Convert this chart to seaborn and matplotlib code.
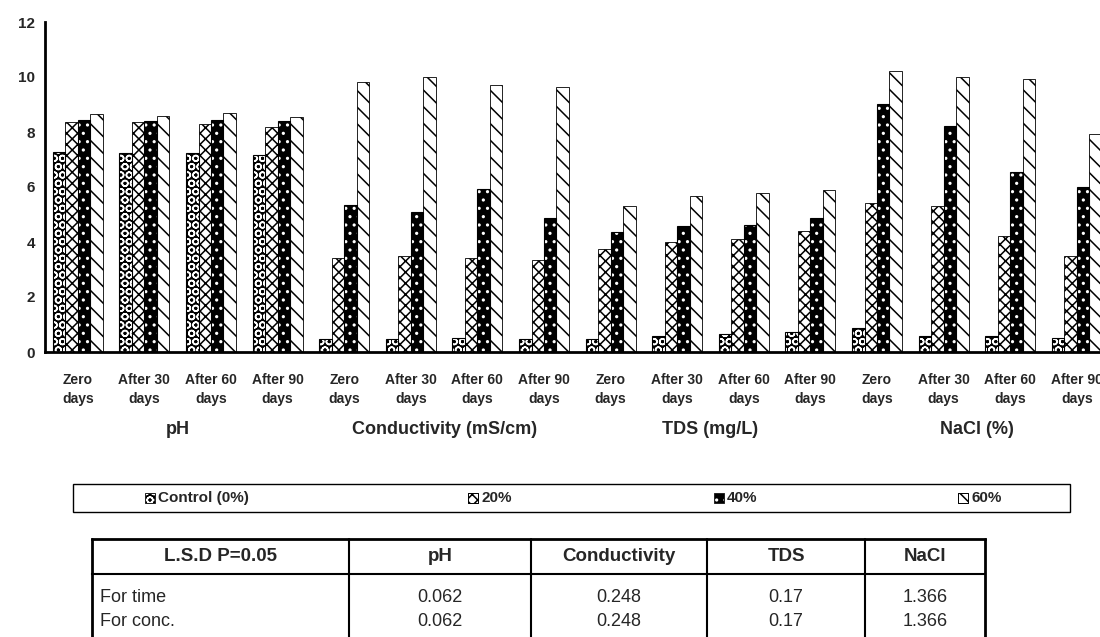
import matplotlib
matplotlib.use("Agg")
import matplotlib.pyplot as plt
from matplotlib.patches import Rectangle
from matplotlib.lines import Line2D
import matplotlib.transforms as mtransforms
import seaborn as sns
import pandas as pd

# ---------------- data ----------------
groups = ["pH", "Conductivity (mS/cm)", "TDS (mg/L)", "NaCl (%)"]
times = ["Zero\ndays", "After 30\ndays", "After 60\ndays", "After 90\ndays"]
concs = ["Control (0%)", "20%", "40%", "60%"]

control = [7.26, 7.22, 7.22, 7.16, 0.46, 0.46, 0.51, 0.46,
           0.49, 0.59, 0.65, 0.72, 0.87, 0.59, 0.59, 0.50]
c20 = [8.37, 8.36, 8.28, 8.19, 3.41, 3.50, 3.41, 3.33,
       3.75, 3.99, 4.10, 4.40, 5.42, 5.30, 4.21, 3.48]
c40 = [8.44, 8.40, 8.44, 8.40, 5.35, 5.09, 5.93, 4.87,
       4.35, 4.58, 4.62, 4.86, 9.02, 8.22, 6.55, 6.00]
c60 = [8.64, 8.58, 8.68, 8.55, 9.83, 9.99, 9.70, 9.62,
       5.32, 5.67, 5.79, 5.90, 10.22, 10.01, 9.91, 7.92]

y_ticks = [0, 2, 4, 6, 8, 10, 12]

lsd_header = ["L.S.D P=0.05", "pH", "Conductivity", "TDS", "NaCl"]
lsd_time = ["For time", "0.062", "0.248", "0.17", "1.366"]
lsd_conc = ["For conc.", "0.062", "0.248", "0.17", "1.366"]

# ---------------- build frame ----------------
slots = [f"{g}|{t}" for g in groups for t in times]
rows = []
for name, vals in zip(concs, [control, c20, c40, c60]):
    for s, v in zip(slots, vals):
        rows.append({"slot": s, "conc": name, "value": v})
df = pd.DataFrame(rows)

# ---------------- style ----------------
sns.set_style("white")
plt.rcParams["font.family"] = ["Liberation Sans", "DejaVu Sans"]
plt.rcParams["hatch.linewidth"] = 1.1

W, H = 1100, 637
fig = plt.figure(figsize=(W / 100, H / 100), dpi=100)

def fx(x):
    return x / W

def fy(y):
    return 1 - y / H

ax_left, ax_right = 44.5, 44.5 + 16 * 66.6
ax_top, ax_bot = 22, 352
ax = fig.add_axes([fx(ax_left), fy(ax_bot), fx(ax_right - ax_left), (ax_bot - ax_top) / H])

sns.barplot(data=df, x="slot", y="value", hue="conc", order=slots, hue_order=concs,
            palette={c: "white" for c in concs}, width=0.75, ax=ax, legend=False,
            errorbar=None)

styles = {
    "Control (0%)": dict(facecolor="black", edgecolor="white", hatch="OO"),
    "20%": dict(facecolor="white", edgecolor="black", hatch="xxx"),
    "40%": dict(facecolor="black", edgecolor="white", hatch=".."),
    "60%": dict(facecolor="white", edgecolor="black", hatch="\\\\"),
}
for cont, name in zip(ax.containers, concs):
    st = styles[name]
    for p in cont:
        p.set_facecolor(st["facecolor"])
        p.set_edgecolor(st["edgecolor"])
        p.set_hatch(st["hatch"])
        p.set_linewidth(0.6)
        if st["edgecolor"] == "white":
            ax.add_patch(Rectangle(p.get_xy(), p.get_width(), p.get_height(),
                                   fill=False, edgecolor="black", lw=0.8))

ax.set_xlim(-0.5, len(slots) - 0.5)
ax.set_ylim(0, 12)
ax.set_yticks(y_ticks)
ax.set_yticklabels([str(t) for t in y_ticks], fontsize=11, fontweight="bold")
ax.set_xlabel("")
ax.set_ylabel("")

# boundary ticks (major) and centered labels (minor)
ax.set_xticks([i - 0.5 for i in range(len(slots) + 1)])
ax.set_xticklabels([])
ax.set_xticks(range(len(slots)), minor=True)
ax.set_xticklabels(times * len(groups), minor=True, fontsize=10, fontweight="bold",
                   linespacing=1.5)
ax.tick_params(axis="x", which="major", direction="out", length=5, width=1.5, color="black")
ax.tick_params(axis="x", which="minor", length=0, pad=15)
ax.tick_params(axis="y", direction="out", length=6, width=1.5, color="black", pad=1)

for s in ["top", "right"]:
    ax.spines[s].set_visible(False)
for s in ["left", "bottom"]:
    ax.spines[s].set_linewidth(2)
    ax.spines[s].set_color("black")

# group labels
trans = mtransforms.blended_transform_factory(ax.transData, fig.transFigure)
for gi, g in enumerate(groups):
    ax.text(gi * 4 + 1.5, fy(430), g, transform=trans, ha="center", va="center",
            fontsize=13, fontweight="bold", clip_on=False)

# ---------------- legend (manual box) ----------------
lx0, lx1, ly0, ly1 = 73, 1070, 484, 512
fig.add_artist(Rectangle((fx(lx0), fy(ly1)), fx(lx1 - lx0), (ly1 - ly0) / H,
                         transform=fig.transFigure, fill=False, edgecolor="black", lw=1))
icon_x = [145, 468, 714, 958]
ly_mid = (ly0 + ly1) / 2
for x, name in zip(icon_x, concs):
    st = styles[name]
    fig.add_artist(Rectangle((fx(x), fy(ly_mid + 5)), fx(10), 10 / H,
                             transform=fig.transFigure, facecolor=st["facecolor"],
                             edgecolor=st["edgecolor"], hatch=st["hatch"], lw=0.6))
    fig.add_artist(Rectangle((fx(x), fy(ly_mid + 5)), fx(10), 10 / H,
                             transform=fig.transFigure, fill=False,
                             edgecolor="black", lw=0.6))
    fig.text(fx(x + 13), fy(ly_mid), name, ha="left", va="center",
             fontsize=11, fontweight="bold")

# ---------------- LSD table ----------------
col_edges = [92, 349, 531, 707, 865, 985]
t_top, t_head_bot, t_bottom = 539, 574, 640
def hline(y, x0, x1, lw):
    fig.add_artist(Line2D([fx(x0), fx(x1)], [fy(y), fy(y)], transform=fig.transFigure,
                          color="black", lw=lw, solid_capstyle="projecting"))
def vline(x, y0, y1, lw):
    fig.add_artist(Line2D([fx(x), fx(x)], [fy(y0), fy(y1)], transform=fig.transFigure,
                          color="black", lw=lw))
hline(t_top, col_edges[0], col_edges[-1], 2.0)
hline(t_head_bot, col_edges[0], col_edges[-1], 1.5)
for i, x in enumerate(col_edges):
    vline(x, t_top, t_bottom, 2.0 if i in (0, len(col_edges) - 1) else 1.5)

for ci, txt in enumerate(lsd_header):
    cx = (col_edges[ci] + col_edges[ci + 1]) / 2
    fig.text(fx(cx), fy((t_top + t_head_bot) / 2), txt, ha="center", va="center",
             fontsize=13.5, fontweight="bold")
for row, yc in zip([lsd_time, lsd_conc], [597, 621]):
    for ci, txt in enumerate(row):
        if ci == 0:
            fig.text(fx(col_edges[0] + 8), fy(yc), txt, ha="left", va="center", fontsize=13)
        else:
            cx = (col_edges[ci] + col_edges[ci + 1]) / 2
            fig.text(fx(cx), fy(yc), txt, ha="center", va="center", fontsize=13)

fig.savefig("out.png", dpi=100)
